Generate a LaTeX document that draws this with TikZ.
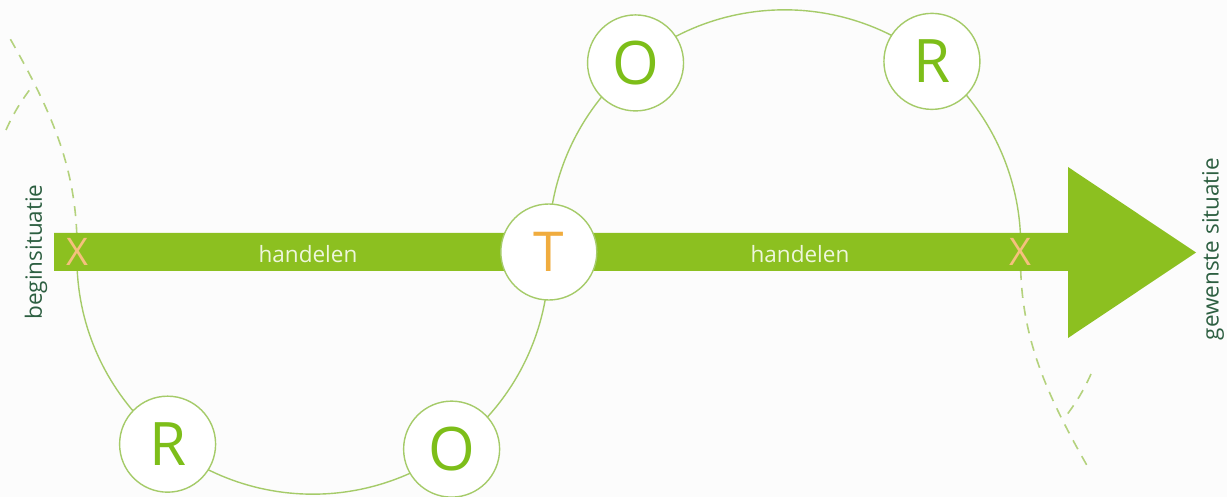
\documentclass[tikz,border=0pt]{standalone}
\usepackage{fontspec}
\setmainfont{Open Sans}
\definecolor{bargreen}{RGB}{140,192,32}
\definecolor{linegreen}{RGB}{165,203,105}
\definecolor{dashgreen}{RGB}{180,210,125}
\definecolor{lettergreen}{RGB}{125,190,25}
\definecolor{torange}{RGB}{240,172,62}
\definecolor{xorange}{RGB}{245,192,125}
\definecolor{bartext}{RGB}{238,246,220}
\definecolor{sidetext}{RGB}{45,95,65}
\definecolor{bgcol}{RGB}{252,252,252}
\tikzset{
  ring/.style={circle, draw=linegreen, line width=1.4pt, fill=white, minimum size=96pt, inner sep=0pt,
    text=lettergreen, font=\fontsize{60}{60}\selectfont},
  tring/.style={ring, text=torange, font=\fontsize{55}{55}\selectfont},
  loopline/.style={draw=linegreen, line width=1.4pt},
  dashline/.style={draw=dashgreen, line width=1.6pt, dash pattern=on 10pt off 8pt},
  xmark/.style={text=xorange, font=\fontsize{38}{38}\selectfont, inner sep=0pt},
  barlabel/.style={text=bartext, font=\fontsize{22.5}{22.5}\selectfont, inner sep=0pt},
  sidelabel/.style={text=sidetext, font=\fontsize{22.5}{22.5}\selectfont, inner sep=0pt, rotate=90},
}
\begin{document}
\begin{tikzpicture}[x=1pt,y=1pt]
\fill[bgcol] (0,0) rectangle (1227,-497);
\useasboundingbox (0,0) rectangle (1227,-497);
% key points
\coordinate (XL) at (77,-252);
\coordinate (XR) at (1020.6,-252);
% dashed continuations
\draw[dashline] (XL) .. controls (78,-170) and (52,-112) .. (8,-35);
\draw[dashline] (6,-130) .. controls (14,-112) and (22,-100) .. (31,-88);
\draw[dashline] (XR) .. controls (1019,-334) and (1045,-392) .. (1089,-469);
\draw[dashline] (1091,-374) .. controls (1083,-392) and (1075,-404) .. (1066,-416);
% loops
\draw[loopline] (XL) arc[start angle=178.5, end angle=361.5, radius=236pt] coordinate (TP)
  arc[start angle=181.5, end angle=-1.5, radius=236pt];
% arrow bar
\fill[bargreen] (54,-233) -- (1068,-233) -- (1068,-167) -- (1196,-252.5) -- (1068,-338) -- (1068,-271) -- (54,-271) -- cycle;
% nodes
\node[tring] (T) at (TP) {T};
\node[ring] (O1) at ([shift={(784.7,-245.8)}]129.2:236) {O};
\node[ring] (R1) at ([shift={(784.7,-245.8)}]51.4:236) {R};
\node[ring] (R2) at ([shift={(312.9,-258.2)}]232:236) {R};
\node[ring] (O2) at ([shift={(312.9,-258.2)}]306:236) {O};
\node[xmark] (XLm) at (XL) {X};
\node[xmark] (XRm) at (XR) {X};
\node[barlabel] (H1) at (308,-254) {handelen};
\node[barlabel] (H2) at (800,-254) {handelen};
\node[sidelabel] (B) at (36,-252) {beginsituatie};
\node[sidelabel] (G) at (1213,-249) {gewenste situatie};
\end{tikzpicture}
\end{document}
